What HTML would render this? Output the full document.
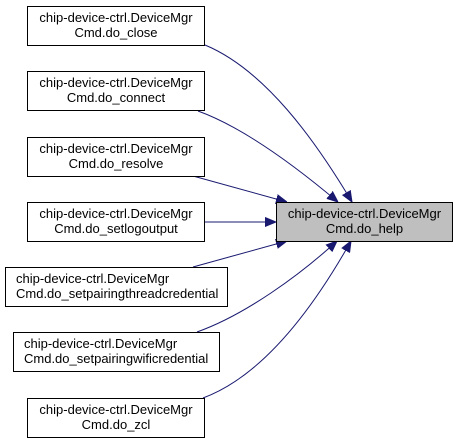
<!DOCTYPE html>
<html><head><meta charset="utf-8"><style>
html,body{margin:0;padding:0;background:#fff;}
svg{display:block;}
text{font-family:"Liberation Sans",Arial,sans-serif;font-size:13px;fill:#000;}
</style></head><body>
<svg width="459" height="444" viewBox="0 0 459 444" xmlns="http://www.w3.org/2000/svg">
<defs>
<marker id="a" markerWidth="11" markerHeight="10" refX="11" refY="5" orient="auto" markerUnits="userSpaceOnUse">
<polygon points="0,0.5 11,5 0,9.5" fill="#191970" stroke="#191970"/>
</marker>
</defs>
<g fill="none" stroke="#191970" stroke-width="1">
<path d="M205,45 C265,70 315,140 352,202" marker-end="url(#a)"/>
<path d="M198,111 C245,128 300,170 338,202" marker-end="url(#a)"/>
<path d="M193,176 L287,202" marker-end="url(#a)"/>
<path d="M205,222 L276,222" marker-end="url(#a)"/>
<path d="M193,267 L287,241" marker-end="url(#a)"/>
<path d="M197,332 C245,315 300,275 337,241" marker-end="url(#a)"/>
<path d="M203,398 C265,375 315,305 351,241" marker-end="url(#a)"/>
</g>
<g stroke="#000" stroke-width="1" fill="#fff">
<rect x="27.5" y="6.5" width="177" height="39"/>
<rect x="27.5" y="71.5" width="177" height="39"/>
<rect x="27.5" y="137.5" width="177" height="39"/>
<rect x="27.5" y="202.5" width="177" height="39"/>
<rect x="5.5" y="267.5" width="222" height="39"/>
<rect x="13.5" y="332.5" width="206" height="39"/>
<rect x="27.5" y="398.5" width="177" height="39"/>
<rect x="276.5" y="202.5" width="176" height="39" fill="#bfbfbf"/>
</g>
<g text-anchor="middle">
<text x="116" y="22">chip-device-ctrl.DeviceMgr</text><text x="116" y="37">Cmd.do_close</text>
<text x="116" y="87">chip-device-ctrl.DeviceMgr</text><text x="116" y="102">Cmd.do_connect</text>
<text x="116" y="153">chip-device-ctrl.DeviceMgr</text><text x="116" y="168">Cmd.do_resolve</text>
<text x="116" y="218">chip-device-ctrl.DeviceMgr</text><text x="116" y="233">Cmd.do_setlogoutput</text>
<text x="116" y="414">chip-device-ctrl.DeviceMgr</text><text x="116" y="429">Cmd.do_zcl</text>
<text x="364.5" y="218">chip-device-ctrl.DeviceMgr</text><text x="364.5" y="233">Cmd.do_help</text>
</g>
<text x="16" y="283">chip-device-ctrl.DeviceMgr</text><text x="16" y="298">Cmd.do_setpairingthreadcredential</text>
<text x="24" y="348">chip-device-ctrl.DeviceMgr</text><text x="24" y="363">Cmd.do_setpairingwificredential</text>
</svg>
</body></html>
